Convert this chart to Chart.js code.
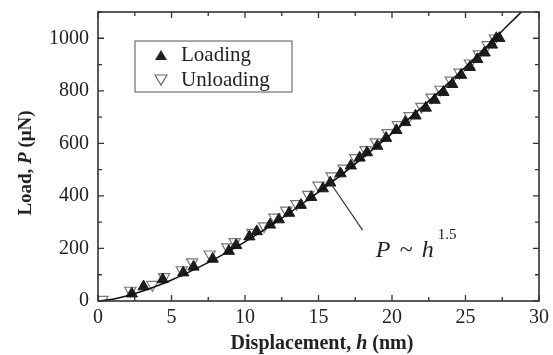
<!DOCTYPE html>
<html>
<head>
<meta charset="utf-8">
<script src="https://cdn.jsdelivr.net/npm/chart.js@4.4.0/dist/chart.umd.min.js"></script>
<style>
  html, body { margin: 0; padding: 0; background: #fff; }
</style>
</head>
<body>
<canvas id="chart" width="553" height="355"></canvas>
<script>
// loading branch (filled triangles)
const loadH = [2.3, 3.1, 4.4, 5.8, 6.5, 7.8, 8.9, 9.4, 10.3, 10.8, 11.7, 12.3, 13.0, 13.8, 14.5, 15.3, 15.8, 16.5, 17.2, 17.8, 18.3, 19.0, 19.6, 20.3, 20.9, 21.6, 22.3, 22.9, 23.5, 24.1, 24.7, 25.3, 25.8, 26.3, 26.8, 27.1, 27.3];
const loadP = [28, 55, 82, 108, 130, 160, 190, 212, 245, 265, 290, 310, 335, 365, 395, 428, 450, 485, 515, 545, 565, 590, 620, 650, 680, 705, 735, 765, 795, 825, 860, 890, 920, 945, 975, 1000, 1000];

// unloading branch (open triangles)
const unloadH = [0.3, 2.2, 3.7, 4.5, 5.7, 6.4, 7.6, 8.8, 9.3, 10.5, 11.3, 12.0, 12.8, 13.5, 14.3, 15.0, 15.9, 16.7, 17.5, 18.2, 18.9, 19.7, 20.4, 21.2, 22.0, 22.7, 23.3, 24.0, 24.6, 25.3, 25.9, 26.5, 27.0];
const unloadP = [5, 40, 62, 92, 118, 148, 178, 205, 225, 260, 285, 318, 345, 370, 405, 440, 475, 505, 545, 575, 605, 640, 670, 705, 740, 775, 805, 840, 870, 905, 940, 975, 1000];

// fitted curve P ~ h^1.5
const fitH = [0, 1, 2, 3, 4, 5, 6, 8, 10, 12, 14, 16, 18, 20, 22, 24, 26, 28, 28.8];
const fitP = [0, 7, 20, 37, 57, 80, 105, 161, 225, 296, 374, 456, 545, 638, 736, 838, 945, 1056, 1100];

const xTicks = [0, 5, 10, 15, 20, 25, 30];
const yTicks = [0, 200, 400, 600, 800, 1000];

const serif = "'Liberation Serif', 'Times New Roman', serif";
const ink = '#222';

function pts(xs, ys) {
  return xs.map((x, i) => ({ x: x, y: ys[i] }));
}

function drawRich(ctx, parts, x, y) {
  let total = 0;
  parts.forEach(p => { ctx.font = p[1]; total += ctx.measureText(p[0]).width; });
  let cx = x - total / 2;
  parts.forEach(p => {
    ctx.font = p[1];
    ctx.fillText(p[0], cx, y);
    cx += ctx.measureText(p[0]).width;
  });
}

const decor = {
  id: 'decor',
  afterDraw(chart) {
    const ctx = chart.ctx;
    const ca = chart.chartArea;
    const xs = chart.scales.x, ys = chart.scales.y;
    ctx.save();

    // frame
    ctx.strokeStyle = '#333';
    ctx.lineWidth = 1.6;
    ctx.strokeRect(ca.left, ca.top, ca.right - ca.left, ca.bottom - ca.top);

    // inward ticks on all sides
    ctx.lineWidth = 1.3;
    ctx.beginPath();
    for (let v = 0; v <= 30; v += 2.5) {
      const px = xs.getPixelForValue(v);
      const len = v % 5 === 0 ? 6 : 4;
      ctx.moveTo(px, ca.bottom); ctx.lineTo(px, ca.bottom - len);
      ctx.moveTo(px, ca.top); ctx.lineTo(px, ca.top + len);
    }
    for (let v = 0; v <= 1100; v += 100) {
      const py = ys.getPixelForValue(v);
      const len = v % 200 === 0 ? 6 : 4;
      ctx.moveTo(ca.left, py); ctx.lineTo(ca.left + len, py);
      ctx.moveTo(ca.right, py); ctx.lineTo(ca.right - len, py);
    }
    ctx.stroke();

    // legend box
    const lx = ca.left + 37, ly = ca.top + 29;
    ctx.strokeStyle = '#555';
    ctx.lineWidth = 1;
    ctx.strokeRect(lx, ly, 157, 51);
    ctx.fillStyle = ink;
    ctx.textBaseline = 'middle';
    ctx.textAlign = 'left';
    ctx.font = '21px ' + serif;
    // filled up triangle
    ctx.beginPath();
    ctx.moveTo(lx + 26, ly + 9); ctx.lineTo(lx + 32, ly + 19); ctx.lineTo(lx + 20, ly + 19);
    ctx.closePath(); ctx.fill();
    ctx.fillText('Loading', lx + 46, ly + 14);
    // open down triangle
    ctx.strokeStyle = '#666';
    ctx.lineWidth = 1.2;
    ctx.beginPath();
    ctx.moveTo(lx + 20, ly + 34); ctx.lineTo(lx + 32, ly + 34); ctx.lineTo(lx + 26, ly + 44);
    ctx.closePath(); ctx.stroke();
    ctx.fillText('Unloading', lx + 46, ly + 39);

    // annotation pointer
    ctx.strokeStyle = '#333';
    ctx.lineWidth = 1.2;
    ctx.beginPath();
    ctx.moveTo(xs.getPixelForValue(15.8), ys.getPixelForValue(450));
    ctx.lineTo(xs.getPixelForValue(18.0), ys.getPixelForValue(270));
    ctx.stroke();

    // annotation text P ~ h^1.5
    const ax = xs.getPixelForValue(18.9), ay = ys.getPixelForValue(168);
    ctx.textBaseline = 'alphabetic';
    ctx.font = 'italic 24px ' + serif;
    ctx.fillText('P', ax, ay);
    ctx.font = '24px ' + serif;
    ctx.fillText('~', ax + 24, ay);
    ctx.font = 'italic 24px ' + serif;
    ctx.fillText('h', ax + 46, ay);
    ctx.font = '15px ' + serif;
    ctx.fillText('1.5', ax + 62, ay - 18);

    // axis titles
    ctx.fillStyle = ink;
    drawRich(ctx, [
      ['Displacement, ', 'bold 20px ' + serif],
      ['h', 'italic bold 20px ' + serif],
      [' (nm)', 'bold 20px ' + serif]
    ], 322, 349);

    ctx.translate(31, 163);
    ctx.rotate(-Math.PI / 2);
    drawRich(ctx, [
      ['Load, ', 'bold 19px ' + serif],
      ['P', 'italic bold 19px ' + serif],
      [' (\u03bcN)', 'bold 19px ' + serif]
    ], 0, 0);
    ctx.restore();
  }
};

new Chart(document.getElementById('chart'), {
  type: 'scatter',
  data: {
    datasets: [
      {
        label: 'fit',
        type: 'line',
        data: pts(fitH, fitP),
        borderColor: '#111',
        borderWidth: 1.5,
        pointRadius: 0,
        cubicInterpolationMode: 'monotone',
        fill: false
      },
      {
        label: 'Loading',
        data: pts(loadH, loadP),
        pointStyle: 'triangle',
        pointRadius: 6.5,
        backgroundColor: '#1c1c1c',
        borderColor: '#1c1c1c',
        borderWidth: 1
      },
      {
        label: 'Unloading',
        data: pts(unloadH, unloadP),
        pointStyle: 'triangle',
        rotation: 180,
        pointRadius: 6.5,
        backgroundColor: 'rgba(255,255,255,0)',
        borderColor: '#777',
        borderWidth: 1.2
      }
    ]
  },
  options: {
    responsive: false,
    animation: false,
    devicePixelRatio: 1,
    layout: { padding: { left: 0, top: 12, right: 14, bottom: 0 } },
    plugins: { legend: { display: false }, tooltip: { enabled: false } },
    scales: {
      x: {
        type: 'linear',
        min: 0, max: 30,
        afterBuildTicks: s => { s.ticks = xTicks.map(v => ({ value: v })); },
        afterFit: s => { s.height = 54; s.paddingLeft = 0; s.paddingRight = 0; },
        grid: { display: false, drawTicks: false },
        border: { display: false },
        ticks: { color: ink, font: { family: serif, size: 20 }, padding: 5, maxRotation: 0, callback: v => String(v) }
      },
      y: {
        type: 'linear',
        min: 0, max: 1100,
        afterBuildTicks: s => { s.ticks = yTicks.map(v => ({ value: v })); },
        afterFit: s => { s.width = 98; s.paddingTop = 0; s.paddingBottom = 0; },
        grid: { display: false, drawTicks: false },
        border: { display: false },
        ticks: { color: ink, font: { family: serif, size: 20 }, padding: 9, callback: v => String(v) }
      }
    }
  },
  plugins: [decor]
});
</script>
</body>
</html>
